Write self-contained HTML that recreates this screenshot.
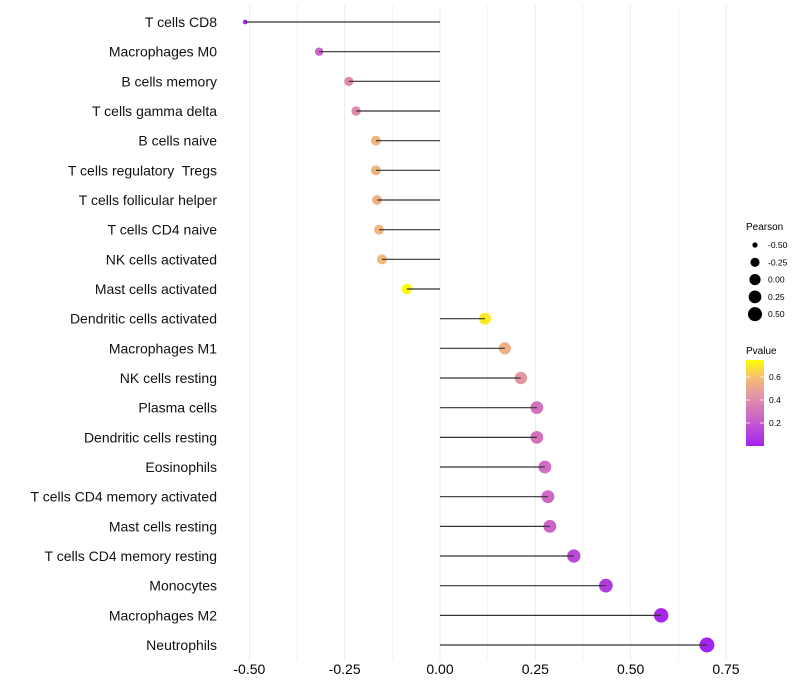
<!DOCTYPE html>
<html><head><meta charset="utf-8"><style>
body{margin:0;background:#fff;}
svg{display:block;font-family:"Liberation Sans",sans-serif;}
text{white-space:pre;}
</style></head><body>
<svg id="chart" width="800" height="700"></svg>
<script>
const categories=["T cells CD8","Macrophages M0","B cells memory","T cells gamma delta","B cells naive","T cells regulatory  Tregs","T cells follicular helper","T cells CD4 naive","NK cells activated","Mast cells activated","Dendritic cells activated","Macrophages M1","NK cells resting","Plasma cells","Dendritic cells resting","Eosinophils","T cells CD4 memory activated","Mast cells resting","T cells CD4 memory resting","Monocytes","Macrophages M2","Neutrophils"];
const pearson=[-0.511,-0.317,-0.239,-0.220,-0.168,-0.168,-0.165,-0.160,-0.152,-0.087,0.118,0.170,0.212,0.254,0.254,0.275,0.283,0.288,0.351,0.435,0.580,0.700];
const pvalue=[0.01,0.25,0.40,0.40,0.56,0.56,0.56,0.57,0.58,0.74,0.70,0.55,0.45,0.30,0.30,0.28,0.26,0.25,0.15,0.10,0.03,0.01];
const xTicks=[-0.5,-0.25,0,0.25,0.5,0.75];
const xTickLabels=["-0.50","-0.25","0.00","0.25","0.50","0.75"];
const sizeLegend=[-0.5,-0.25,0,0.25,0.5];
const pTicks=[0.2,0.4,0.6];

const NS="http://www.w3.org/2000/svg";
const svg=document.getElementById('chart');
const X=v=>440+v*381.3;
const Y=i=>22+i*29.667;
const R=v=>2+5.5*Math.sqrt(Math.max(0,(v+0.515))/1.215);
const PY=p=>423-(p-0.2)*115;
function mk(t,a,parent){const e=document.createElementNS(NS,t);for(const k in a)e.setAttribute(k,a[k]);(parent||svg).appendChild(e);return e;}
const stops=[[0,[160,32,240]],[0.25,[205,100,200]],[0.45,[228,150,165]],[0.6,[243,190,115]],[0.75,[255,255,0]]];
function col(p){p=Math.max(0,Math.min(0.75,p));for(let i=1;i<stops.length;i++){if(p<=stops[i][0]){const a=stops[i-1],b=stops[i];const t=(p-a[0])/(b[0]-a[0]);const c=a[1].map((v,j)=>Math.round(v+(b[1][j]-v)*t));return `rgb(${c})`;}}return 'rgb(255,255,0)';}

for(let v=-0.5;v<=0.75001;v+=0.125){
  const g=mk('line',{x1:X(v),x2:X(v),y1:5,y2:660,stroke:'#ebebeb','stroke-width':Math.abs(v/0.25-Math.round(v/0.25))<1e-6?1:0.6});
  
  
}
xTicks.forEach((v,i)=>{
  const t=mk('text',{x:X(v),y:674,'text-anchor':'middle','font-size':14,fill:'#000'});
  t.textContent=xTickLabels[i];
  
  
});
categories.forEach((c,i)=>{
  const t=mk('text',{x:217,y:Y(i)+5,'text-anchor':'end','font-size':14,fill:'#111'});
  t.textContent=c;
  
  
  const p=mk('circle',{cx:X(pearson[i]),cy:Y(i),r:R(pearson[i]),fill:col(pvalue[i])});
  
  
  const l=mk('line',{x1:X(0),x2:X(pearson[i]),y1:Y(i),y2:Y(i),stroke:'#333','stroke-width':1.2});
  
  
});
const lt=mk('text',{x:746,y:230,'font-size':10});lt.textContent='Pearson';


sizeLegend.forEach((v,i)=>{
  const y=245+i*17.3;
  const c=mk('circle',{cx:755,cy:y,r:R(v),fill:'#000'});
  
  
  const t=mk('text',{x:768,y:y+3,'font-size':8.5});t.textContent=v.toFixed(2);
  
  
});
const ct=mk('text',{x:746,y:354,'font-size':10});ct.textContent='Pvalue';


const defs=mk('defs',{});
const lg=mk('linearGradient',{id:'pg',x1:0,y1:1,x2:0,y2:0},defs);
for(let k=0;k<=10;k++){const p=0.01+0.74*k/10;mk('stop',{offset:k/10,'stop-color':col(p)},lg);}
const bar=mk('rect',{x:746,y:360,width:18,height:86,fill:'url(#pg)'});


pTicks.forEach(p=>{
  mk('line',{x1:746,x2:750,y1:PY(p),y2:PY(p),stroke:'#fff','stroke-width':0.8});
  mk('line',{x1:760,x2:764,y1:PY(p),y2:PY(p),stroke:'#fff','stroke-width':0.8});
  const t=mk('text',{x:769,y:PY(p)+3,'font-size':8.5});t.textContent=p.toFixed(1);
  
  
});
</script>
</body></html>
